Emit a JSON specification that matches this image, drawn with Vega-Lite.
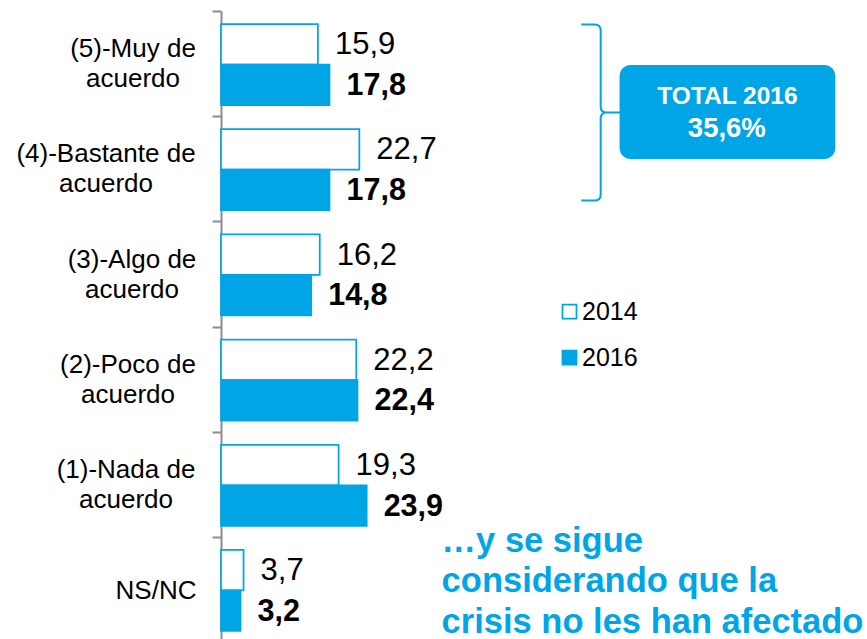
{
  "$schema": "https://vega.github.io/schema/vega-lite/v6.json",
  "width": 646,
  "height": 628,
  "autosize": {"type": "none"},
  "padding": {"left": 221, "top": 11, "right": 0, "bottom": 0},
  "background": "white",
  "config": {
    "view": {"stroke": null},
    "font": "Liberation Sans",
    "locale": {"number": {"decimal": ",", "thousands": ".", "grouping": [3], "currency": ["", " €"]}},
    "legend": {
      "orient": "none",
      "legendX": 336,
      "legendY": 288,
      "symbolType": "square",
      "symbolSize": 196,
      "symbolStrokeColor": "#00A5E5",
      "symbolStrokeWidth": 1.75,
      "labelFont": "Liberation Sans",
      "labelFontSize": 25,
      "labelColor": "#000000",
      "labelOffset": 0,
      "rowPadding": 20,
      "padding": 0
    }
  },
  "data": {
    "values": [
      {"cat": "(5)-Muy de acuerdo", "year": "2014", "value": 15.9},
      {"cat": "(5)-Muy de acuerdo", "year": "2016", "value": 17.8},
      {"cat": "(4)-Bastante de acuerdo", "year": "2014", "value": 22.7},
      {"cat": "(4)-Bastante de acuerdo", "year": "2016", "value": 17.8},
      {"cat": "(3)-Algo de acuerdo", "year": "2014", "value": 16.2},
      {"cat": "(3)-Algo de acuerdo", "year": "2016", "value": 14.8},
      {"cat": "(2)-Poco de acuerdo", "year": "2014", "value": 22.2},
      {"cat": "(2)-Poco de acuerdo", "year": "2016", "value": 22.4},
      {"cat": "(1)-Nada de acuerdo", "year": "2014", "value": 19.3},
      {"cat": "(1)-Nada de acuerdo", "year": "2016", "value": 23.9},
      {"cat": "NS/NC", "year": "2014", "value": 3.7},
      {"cat": "NS/NC", "year": "2016", "value": 3.2}
    ]
  },
  "encoding": {
    "y": {
      "field": "cat",
      "type": "nominal",
      "sort": ["(5)-Muy de acuerdo", "(4)-Bastante de acuerdo", "(3)-Algo de acuerdo", "(2)-Poco de acuerdo", "(1)-Nada de acuerdo", "NS/NC"],
      "scale": {"paddingInner": 0.23, "paddingOuter": 0.124, "range": [0, 633]},
      "axis": {
        "title": null,
        "domainColor": "#8C8C8C",
        "domainWidth": 2,
        "tickColor": "#8C8C8C",
        "tickWidth": 2,
        "tickSize": 9,
        "tickOffset": -53.5,
        "labelOffset": {
          "condition": {"test": "datum.value === 'NS/NC'", "value": 53.2},
          "value": 37.6
        },
        "labelFont": "Liberation Sans",
        "labelFontSize": 26,
        "labelColor": "#000000",
        "labelLineHeight": 30,
        "labelAlign": "center",
        "labelBaseline": "middle",
        "labelLimit": 400,
        "labelPadding": {
          "condition": [
            {"test": "datum.value === '(4)-Bastante de acuerdo'", "value": 106.5},
            {"test": "datum.value === 'NS/NC'", "value": 56.5},
            {"test": "datum.value === '(2)-Poco de acuerdo'", "value": 84.5},
            {"test": "datum.value === '(1)-Nada de acuerdo'", "value": 86.5},
            {"test": "datum.value === '(3)-Algo de acuerdo'", "value": 80.5}
          ],
          "value": 79.5
        },
        "labelExpr": "indexof(datum.label, ' acuerdo') > 0 ? [replace(datum.label, ' acuerdo', ''), 'acuerdo'] : datum.label"
      }
    }
  },
  "layer": [
    {
      "mark": {"type": "bar", "stroke": "#00A5E5", "strokeWidth": 1.75},
      "encoding": {
        "x": {"field": "value", "type": "quantitative", "scale": {"domain": [0, 106], "nice": false, "zero": true}, "axis": null},
        "yOffset": {"field": "year", "type": "nominal", "sort": ["2014", "2016"], "scale": {"paddingInner": 0, "paddingOuter": 0}},
        "fill": {"field": "year", "type": "nominal", "scale": {"domain": ["2014", "2016"], "range": ["#FFFFFF", "#00A5E5"]}, "legend": {"title": null}}
      }
    },
    {
      "transform": [{"filter": "datum.year === '2014'"}],
      "mark": {"type": "text", "align": "left", "baseline": "middle", "dx": 17, "dy": 1, "fontSize": 31, "font": "Liberation Sans", "color": "#000000"},
      "encoding": {
        "x": {"field": "value", "type": "quantitative"},
        "yOffset": {"field": "year", "type": "nominal", "sort": ["2014", "2016"]},
        "text": {"field": "value", "type": "quantitative", "format": ".1f"}
      }
    },
    {
      "transform": [{"filter": "datum.year === '2016'"}],
      "mark": {"type": "text", "align": "left", "baseline": "middle", "dx": 17, "dy": 1, "fontSize": 30.5, "fontWeight": "bold", "font": "Liberation Sans", "color": "#000000"},
      "encoding": {
        "x": {"field": "value", "type": "quantitative"},
        "yOffset": {"field": "year", "type": "nominal", "sort": ["2014", "2016"]},
        "text": {"field": "value", "type": "quantitative", "format": ".1f"}
      }
    },
    {
      "data": {"values": [{"item": "brace"}]},
      "mark": {"type": "point", "shape": "M -0.22 -1 L -0.07 -1 Q 0 -1 0 -0.93 L 0 -0.07 Q 0 0 0.07 0 L 0.22 0 M 0.07 0 Q 0 0 0 0.07 L 0 0.93 Q 0 1 -0.07 1 L -0.22 1", "size": 30976, "filled": false, "stroke": "#00A5E5", "strokeWidth": 2, "opacity": 1},
      "encoding": {
        "x": {"datum": 62.3},
        "y": {"datum": "(4)-Bastante de acuerdo", "bandPosition": -0.206}
      }
    },
    {
      "data": {"values": [{"item": "box"}]},
      "mark": {"type": "rect", "fill": "#00A5E5", "cornerRadius": 11},
      "encoding": {
        "x": {"datum": 65.4},
        "x2": {"datum": 100.8},
        "y": {"datum": "(4)-Bastante de acuerdo", "bandPosition": -0.793},
        "y2": {"datum": "(4)-Bastante de acuerdo", "bandPosition": 0.368}
      }
    },
    {
      "data": {"values": [{"t": "TOTAL 2016"}]},
      "mark": {"type": "text", "align": "center", "baseline": "alphabetic", "fontSize": 24.5, "fontWeight": "bold", "font": "Liberation Sans", "color": "#FFFFFF"},
      "encoding": {
        "x": {"datum": 83.1},
        "y": {"datum": "(4)-Bastante de acuerdo", "bandPosition": -0.311},
        "text": {"field": "t"}
      }
    },
    {
      "data": {"values": [{"t": "35,6%"}]},
      "mark": {"type": "text", "align": "center", "baseline": "alphabetic", "fontSize": 27.5, "fontWeight": "bold", "font": "Liberation Sans", "color": "#FFFFFF"},
      "encoding": {
        "x": {"datum": 83.0},
        "y": {"datum": "(4)-Bastante de acuerdo", "bandPosition": 0.096},
        "text": {"field": "t"}
      }
    },
    {
      "data": {"values": [{"t": ["…y se sigue", "considerando que la", "crisis no les han afectado"]}]},
      "mark": {"type": "text", "align": "left", "baseline": "alphabetic", "fontSize": 34.5, "fontWeight": "bold", "font": "Liberation Sans", "color": "#00A5E5", "lineHeight": 40.5},
      "encoding": {
        "x": {"datum": 36.2},
        "y": {"datum": "NS/NC", "bandPosition": 0.025},
        "text": {"field": "t"}
      }
    }
  ]
}
